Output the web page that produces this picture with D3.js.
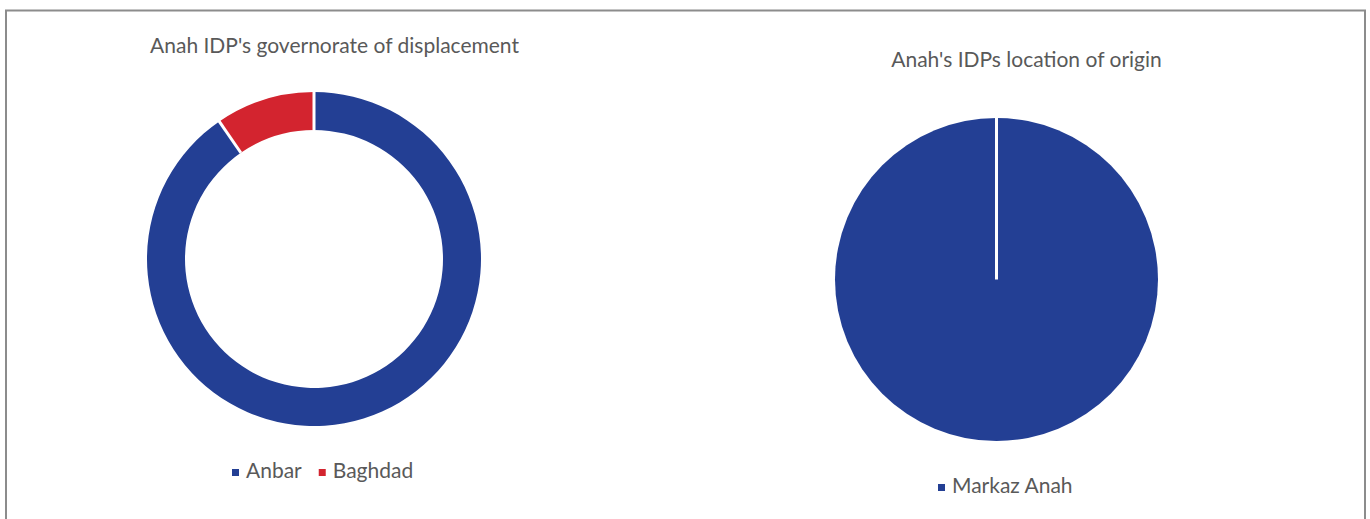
<!DOCTYPE html>
<html>
<head>
<meta charset="utf-8">
<script src="https://cdn.jsdelivr.net/npm/d3@7"></script>
<style>
  html, body { margin: 0; padding: 0; background: #fff; }
  svg { display: block; }
  text { font-family: "Lato", "Open Sans", sans-serif; fill: #595959; }
</style>
</head>
<body>
<svg id="chart" width="1370" height="519"></svg>
<script>
// Governorate of displacement (share of IDPs, %)
const govCategories = ["Anbar", "Baghdad"];
const govValues = [90.4, 9.6];
const govColors = ["#233f94", "#d3242f"];

// Location of origin (share of IDPs, %)
const originCategories = ["Markaz Anah"];
const originValues = [100];
const originColors = ["#233f94"];

const titles = ["Anah IDP's governorate of displacement", "Anah's IDPs location of origin"];

const svg = d3.select("#chart");

// outer frame
svg.append("rect")
  .attr("x", 6).attr("y", 10.5)
  .attr("width", 1359).attr("height", 530)
  .attr("fill", "none")
  .attr("stroke", "#8c8c8c")
  .attr("stroke-width", 2);

const pie = d3.pie().sort(null).value(d => d.value);

function drawChart(cfg) {
  const data = cfg.categories.map((c, i) => ({ name: c, value: cfg.values[i], color: cfg.colors[i] }));
  const arcs = pie(data);
  const g = svg.append("g").attr("transform", `translate(${cfg.cx},${cfg.cy})`);
  const arc = d3.arc().innerRadius(cfg.inner).outerRadius(cfg.outer);

  g.selectAll("path.slice").data(arcs).join("path")
    .attr("class", "slice")
    .attr("d", arc)
    .attr("fill", d => d.data.color);

  // white separators at every slice boundary
  g.selectAll("line.sep").data(arcs).join("line")
    .attr("class", "sep")
    .attr("x1", d => Math.sin(d.startAngle) * cfg.inner)
    .attr("y1", d => -Math.cos(d.startAngle) * cfg.inner)
    .attr("x2", d => Math.sin(d.startAngle) * (cfg.outer + 1))
    .attr("y2", d => -Math.cos(d.startAngle) * (cfg.outer + 1))
    .attr("stroke", "#fff")
    .attr("stroke-width", 3);

  svg.append("text")
    .attr("x", cfg.titleX).attr("y", cfg.titleY)
    .attr("text-anchor", "middle")
    .attr("font-size", 21)
    .text(cfg.title);

  // legend
  const lg = svg.append("g").attr("transform", `translate(${cfg.legendX},${cfg.legendY})`);
  let x = 0;
  data.forEach(d => {
    lg.append("rect").attr("x", x).attr("y", -9).attr("width", 7).attr("height", 7).attr("fill", d.color);
    const t = lg.append("text").attr("x", x + 14).attr("y", 0).attr("font-size", 21).text(d.name);
    x += 14 + t.node().getComputedTextLength() + 17;
  });
}

drawChart({
  categories: govCategories, values: govValues, colors: govColors,
  cx: 314, cy: 259, outer: 167, inner: 129,
  title: titles[0], titleX: 334.5, titleY: 52.5,
  legendX: 232, legendY: 478
});

drawChart({
  categories: originCategories, values: originValues, colors: originColors,
  cx: 996.5, cy: 279.5, outer: 161.5, inner: 0,
  title: titles[1], titleX: 1026.5, titleY: 67,
  legendX: 938, legendY: 493
});
</script>
</body>
</html>
